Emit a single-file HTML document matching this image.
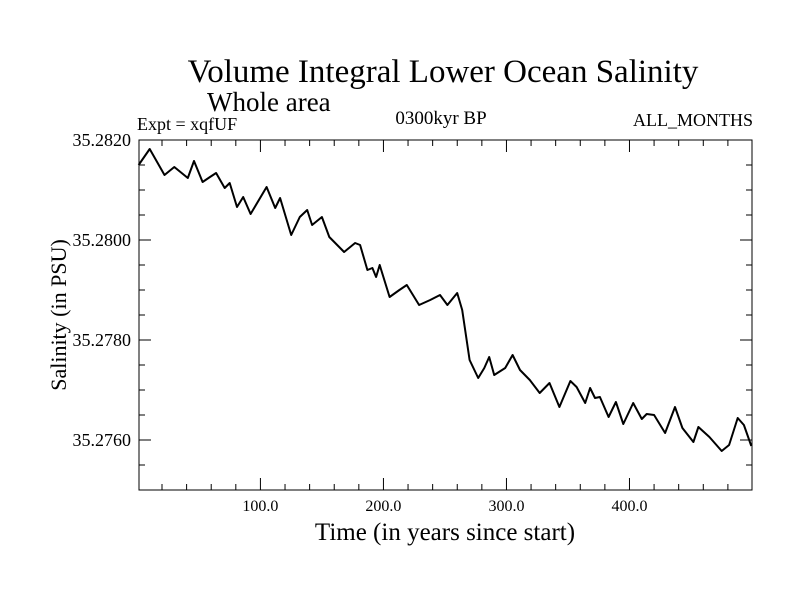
<!DOCTYPE html>
<html><head><meta charset="utf-8"><style>
body{margin:0;background:#fff}
svg text{font-family:"Liberation Serif",serif;fill:#000}
</style></head><body>
<svg width="800" height="600" viewBox="0 0 800 600">
<text x="443" y="82" font-size="33" text-anchor="middle">Volume Integral Lower Ocean Salinity</text>
<text x="207" y="111" font-size="27">Whole area</text>
<text x="137" y="130" font-size="18">Expt = xqfUF</text>
<text x="441" y="124" font-size="19" text-anchor="middle">0300kyr BP</text>
<text x="753" y="126" font-size="18" text-anchor="end">ALL_MONTHS</text>
<text x="445" y="540" font-size="25" text-anchor="middle">Time (in years since start)</text>
<text transform="translate(66,315) rotate(-90)" font-size="22" text-anchor="middle">Salinity (in PSU)</text>
<g id="axes"></g>
<path id="line" fill="none" stroke="#000" stroke-width="2" stroke-linejoin="round"/>
<rect x="139" y="140" width="613" height="350" fill="none" stroke="#000" stroke-width="1"/>
</svg>
<script>
const years=[1,10,22,30,41,46,53,59,64,71,75,81,86,92,105,112,116,125,132,138,142,150,156,168,177,181,187,191,194,197,205,213,219,229,238,246,252,260,264,270,277,282,286,290,299,305,311,319,327,335,343,352,357,364,368,372,376,383,389,395,403,410,414,420,429,437,443,452,456,465,475,481,488,493,499];
const salinity=[35.2815,35.28182,35.2813,35.28146,35.28124,35.28158,35.28116,35.28126,35.28134,35.28104,35.28114,35.28066,35.28086,35.28052,35.28106,35.28064,35.28084,35.2801,35.28046,35.2806,35.2803,35.28046,35.28006,35.27976,35.27994,35.2799,35.2794,35.27944,35.27926,35.2795,35.27886,35.279,35.2791,35.2787,35.2788,35.2789,35.2787,35.27894,35.2786,35.2776,35.27724,35.27744,35.27766,35.2773,35.27744,35.2777,35.2774,35.2772,35.27694,35.27714,35.27666,35.27718,35.27706,35.27674,35.27704,35.27684,35.27686,35.27646,35.27676,35.27632,35.27674,35.27642,35.27652,35.2765,35.27614,35.27666,35.27624,35.27596,35.27626,35.27606,35.27578,35.2759,35.27644,35.2763,35.27588];
const xTickLabels=["100.0","200.0","300.0","400.0"];
const yTickLabels=["35.2760","35.2780","35.2800","35.2820"];
const X0=139,X1=752,Y0=140,Y1=490,TMIN=1.3,TMAX=499.6,VMIN=35.2750,VMAX=35.2820;
const sx=t=>X0+(t-TMIN)/(TMAX-TMIN)*(X1-X0);
const sy=v=>Y1-(v-VMIN)/(VMAX-VMIN)*(Y1-Y0);
const NS="http://www.w3.org/2000/svg";
const ax=document.getElementById('axes');
function ln(x1,y1,x2,y2){const l=document.createElementNS(NS,'line');l.setAttribute('x1',x1);l.setAttribute('y1',y1);l.setAttribute('x2',x2);l.setAttribute('y2',y2);l.setAttribute('stroke','#000');


ax.appendChild(l);}
for(let t=20;t<TMAX;t+=20){const x=sx(t),L=(t%100===0)?12:6;ln(x,Y1,x,Y1-L);ln(x,Y0,x,Y0+L);}
for(let k=0;k<=14;k++){const v=VMIN+k*0.0005,y=sy(v),L=(k%4===2)?12:6;ln(X0,y,X0+L,y);ln(X1,y,X1-L,y);}
xTickLabels.forEach(s=>{const t=document.createElementNS(NS,'text');t.setAttribute('x',sx(parseFloat(s)));t.setAttribute('y',511);t.setAttribute('font-size','16');t.setAttribute('text-anchor','middle');t.textContent=s;


ax.appendChild(t);});
yTickLabels.forEach(s=>{const t=document.createElementNS(NS,'text');t.setAttribute('x',131);t.setAttribute('y',sy(parseFloat(s))+6);t.setAttribute('font-size','18');t.setAttribute('text-anchor','end');t.textContent=s;


ax.appendChild(t);});
document.getElementById('line').setAttribute('d',years.map((t,i)=>(i?'L':'M')+sx(t).toFixed(1)+','+sy(salinity[i]).toFixed(1)).join(''));
</script>
</body></html>
